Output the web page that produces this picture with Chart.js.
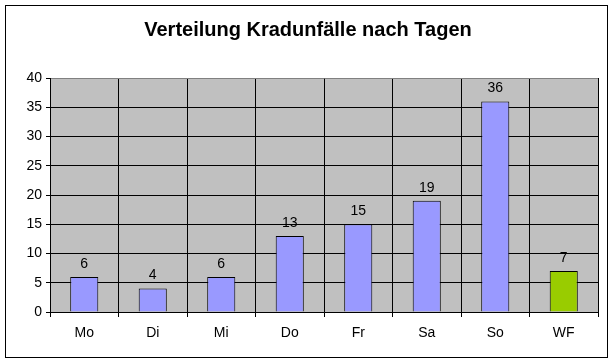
<!DOCTYPE html>
<html>
<head>
<meta charset="utf-8">
<script src="https://cdn.jsdelivr.net/npm/chart.js@4/dist/chart.umd.min.js"></script>
<style>
  body { margin: 0; background: #fff; }
  canvas { display: block; }
</style>
</head>
<body>
<canvas id="kradChart" width="614" height="362"></canvas>
<script>
// Kradunfälle pro Wochentag (WF = Wochenende/Feiertag)
const days = ['Mo', 'Di', 'Mi', 'Do', 'Fr', 'Sa', 'So', 'WF'];
const accidents = [6, 4, 6, 13, 15, 19, 36, 7];
const barColors = ['#9999FF', '#9999FF', '#9999FF', '#9999FF', '#9999FF', '#9999FF', '#9999FF', '#99CC00'];
const yTicks = [0, 5, 10, 15, 20, 25, 30, 35, 40];
const chartTitle = 'Verteilung Kradunfälle nach Tagen';

const fontFamily = "Arial, 'Liberation Sans', sans-serif";

// gray plot area, outer frame and the title (centred on the whole picture)
const backgroundPlugin = {
    id: 'backgroundPlugin',
    beforeDraw: (chart) => {
        const ctx = chart.ctx;
        const area = chart.chartArea;
        ctx.save();
        ctx.fillStyle = '#fff';
        ctx.fillRect(0, 0, chart.width, chart.height);
        ctx.fillStyle = '#C0C0C0';
        ctx.fillRect(area.left, area.top, area.right - area.left, area.bottom - area.top);
        ctx.strokeStyle = '#000';
        ctx.lineWidth = 1;
        ctx.strokeRect(5.5, 5.5, 602, 352);

        ctx.font = 'bold 20px ' + fontFamily;
        ctx.fillStyle = '#000';
        ctx.textAlign = 'center';
        ctx.textBaseline = 'middle';
        ctx.fillText(chartTitle, chart.width / 2 + 1, 30);
        ctx.restore();
    }
};

// value labels above the bars
const valueLabels = {
    id: 'valueLabels',
    afterDatasetsDraw: (chart) => {
        const ctx = chart.ctx;
        ctx.save();
        ctx.font = '14px ' + fontFamily;
        ctx.fillStyle = '#000';
        ctx.textAlign = 'center';
        ctx.textBaseline = 'bottom';
        chart.getDatasetMeta(0).data.forEach((bar, i) => {
            ctx.fillText(String(accidents[i]), bar.x, bar.y - 6);
        });
        ctx.restore();
    }
};

new Chart(document.getElementById('kradChart'), {
    type: 'bar',
    data: {
        labels: days,
        datasets: [{
            data: accidents,
            backgroundColor: barColors,
            borderColor: '#000',
            borderWidth: 1,
            categoryPercentage: 1,
            barPercentage: 0.41
        }]
    },
    options: {
        responsive: false,
        animation: false,
        layout: { padding: { left: 0, right: 16, top: 78, bottom: 0 } },
        plugins: {
            legend: { display: false },
            tooltip: { enabled: false },
            title: { display: false }
        },
        scales: {
            x: {
                afterFit: (scale) => { scale.height = 50; },
                grid: {
                    offset: true,
                    color: (c) => c.index === days.length ? '#808080' : '#000',
                    tickColor: '#000',
                    tickLength: 5,
                    lineWidth: 1
                },
                border: { color: '#000' },
                ticks: {
                    color: '#000',
                    padding: 8,
                    font: { family: fontFamily, size: 14 }
                }
            },
            y: {
                min: 0,
                max: 40,
                afterFit: (scale) => { scale.width = 50; },
                afterBuildTicks: (scale) => { scale.ticks = yTicks.map(v => ({ value: v })); },
                grid: {
                    color: (c) => c.tick && c.tick.value === 40 ? '#808080' : '#000',
                    tickColor: '#000',
                    tickLength: 4
                },
                border: { color: '#000' },
                ticks: {
                    color: '#000',
                    padding: 4,
                    font: { family: fontFamily, size: 14 }
                }
            }
        }
    },
    plugins: [backgroundPlugin, valueLabels]
});
</script>
</body>
</html>
